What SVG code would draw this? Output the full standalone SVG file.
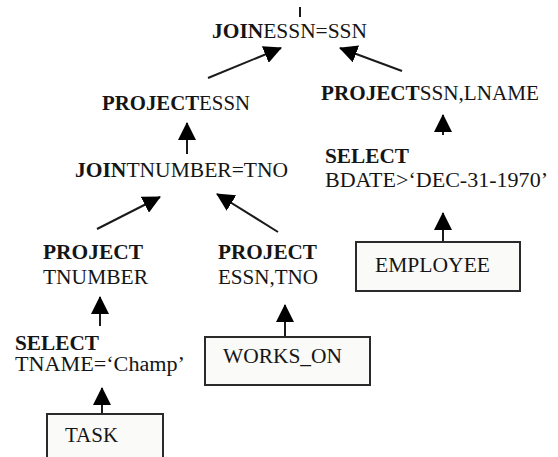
<svg xmlns="http://www.w3.org/2000/svg" width="558" height="457" viewBox="0 0 558 457">
<style>
text{font-family:"Liberation Serif","Times New Roman",serif;font-size:20px;fill:#151515}
.b{font-weight:bold}
.box{fill:#fafaf8;stroke:#2a2a2a;stroke-width:2}
.c{stroke:#1a1a1a;stroke-width:2;fill:none}
</style>
<defs>
<marker id="ah" markerUnits="userSpaceOnUse" markerWidth="18" markerHeight="18" viewBox="0 0 18 18" refX="17" refY="9" orient="auto">
<path d="M0,0 L18,9 L0,18 Z" fill="#000"/>
</marker>
</defs>
<rect width="558" height="457" fill="#fff"/>
<g id="connectors">
<line class="c" x1="300" y1="7" x2="300" y2="17"/>
<line class="c" x1="208" y1="78" x2="281" y2="48" marker-end="url(#ah)"/>
<line class="c" x1="402" y1="71" x2="340" y2="48" marker-end="url(#ah)"/>
<line class="c" x1="187" y1="154" x2="187" y2="123" marker-end="url(#ah)"/>
<line class="c" x1="443" y1="135" x2="443" y2="115" marker-end="url(#ah)"/>
<line class="c" x1="97" y1="229" x2="160" y2="197" marker-end="url(#ah)"/>
<line class="c" x1="278" y1="232" x2="217" y2="194" marker-end="url(#ah)"/>
<line class="c" x1="100" y1="326" x2="100" y2="297" marker-end="url(#ah)"/>
<line class="c" x1="285" y1="337" x2="285" y2="305" marker-end="url(#ah)"/>
<line class="c" x1="102" y1="414" x2="102" y2="388" marker-end="url(#ah)"/>
<line class="c" x1="443" y1="242" x2="443" y2="213" marker-end="url(#ah)"/>
</g>
<g id="join_essn">
<text x="212" y="38" textLength="155" lengthAdjust="spacingAndGlyphs"><tspan class="b">JOIN</tspan>ESSN=SSN</text>
</g>
<g id="project_essn">
<text x="102" y="110" textLength="148" lengthAdjust="spacingAndGlyphs"><tspan class="b">PROJECT</tspan>ESSN</text>
</g>
<g id="project_ssn_lname">
<text x="321" y="100" textLength="218" lengthAdjust="spacingAndGlyphs"><tspan class="b">PROJECT</tspan>SSN,LNAME</text>
</g>
<g id="select_bdate">
<text class="b" x="325" y="163" textLength="84" lengthAdjust="spacingAndGlyphs">SELECT</text>
<text x="325" y="187" textLength="223" lengthAdjust="spacingAndGlyphs">BDATE&gt;‘DEC-31-1970’</text>
</g>
<g id="join_tnumber">
<text x="75" y="177" textLength="213" lengthAdjust="spacingAndGlyphs"><tspan class="b">JOIN</tspan>TNUMBER=TNO</text>
</g>
<g id="project_tnumber">
<text class="b" x="43" y="259" textLength="100" lengthAdjust="spacingAndGlyphs">PROJECT</text>
<text x="43" y="284" textLength="105" lengthAdjust="spacingAndGlyphs">TNUMBER</text>
</g>
<g id="project_essn_tno">
<text class="b" x="218" y="259" textLength="99" lengthAdjust="spacingAndGlyphs">PROJECT</text>
<text x="218" y="284" textLength="100" lengthAdjust="spacingAndGlyphs">ESSN,TNO</text>
</g>
<g id="select_tname">
<text class="b" x="15" y="350" textLength="84" lengthAdjust="spacingAndGlyphs">SELECT</text>
<text x="15" y="371" textLength="170" lengthAdjust="spacingAndGlyphs">TNAME=‘Champ’</text>
</g>
<g id="employee">
<rect class="box" x="356" y="242" width="164" height="49"/>
<text x="375" y="272" textLength="115" lengthAdjust="spacingAndGlyphs">EMPLOYEE</text>
</g>
<g id="works_on">
<rect class="box" x="205" y="337" width="165" height="48"/>
<text x="223" y="363" textLength="119" lengthAdjust="spacingAndGlyphs">WORKS_ON</text>
</g>
<g id="task">
<rect class="box" x="47" y="414" width="116" height="50"/>
<text x="65" y="442" textLength="53" lengthAdjust="spacingAndGlyphs">TASK</text>
</g>
</svg>
